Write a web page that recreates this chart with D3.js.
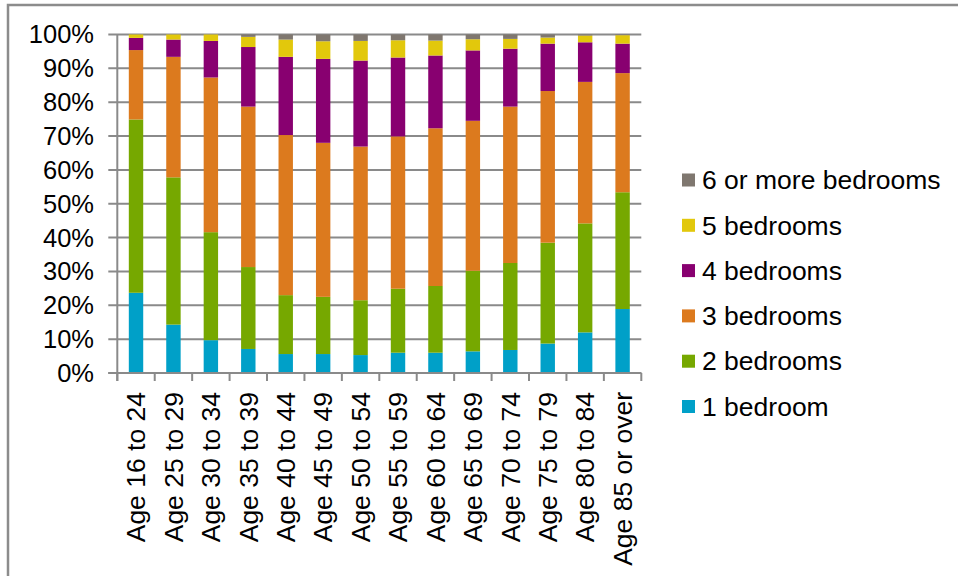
<!DOCTYPE html>
<html>
<head>
<meta charset="utf-8">
<script src="https://cdn.jsdelivr.net/npm/d3@7"></script>
<style>
  html, body { margin: 0; padding: 0; background: #fff; }
  svg { display: block; }
  text { font-family: "Liberation Sans", Arial, sans-serif; fill: #000; }
</style>
</head>
<body>
<svg id="chart" width="958" height="576"></svg>
<script>
// Household reference person age groups
const ageGroups = ["Age 16 to 24", "Age 25 to 29", "Age 30 to 34", "Age 35 to 39", "Age 40 to 44",
  "Age 45 to 49", "Age 50 to 54", "Age 55 to 59", "Age 60 to 64", "Age 65 to 69",
  "Age 70 to 74", "Age 75 to 79", "Age 80 to 84", "Age 85 or over"];

// Share of households (%) by number of bedrooms
const oneBed   = [23.7, 14.3, 9.7, 7.1, 5.6, 5.6, 5.3, 6.0, 6.0, 6.4, 6.8, 8.7, 12.0, 18.9];
const twoBed   = [51.2, 43.5, 31.9, 24.2, 17.4, 16.9, 16.2, 18.9, 19.7, 23.8, 25.7, 29.8, 32.2, 34.5];
const threeBed = [20.5, 35.6, 45.7, 47.4, 47.3, 45.5, 45.4, 45.0, 46.6, 44.3, 46.2, 44.8, 41.8, 35.2];
const fourBed  = [3.6, 5.1, 10.8, 17.6, 23.1, 24.8, 25.4, 23.3, 21.5, 20.8, 17.1, 14.0, 11.7, 8.7];
const fiveBed  = [1.0, 1.5, 1.9, 3.0, 5.1, 5.2, 5.8, 5.1, 4.4, 3.3, 2.9, 1.8, 2.0, 2.5];
const sixBed   = [0.0, 0.0, 0.0, 0.7, 1.5, 2.0, 1.9, 1.7, 1.8, 1.4, 1.3, 0.9, 0.3, 0.2];

const seriesNames = ["1 bedroom", "2 bedrooms", "3 bedrooms", "4 bedrooms", "5 bedrooms", "6 or more bedrooms"];
const seriesValues = [oneBed, twoBed, threeBed, fourBed, fiveBed, sixBed];
const seriesColors = ["#00a0c8", "#76a800", "#dc7a1e", "#880070", "#e2c80c", "#7f776f"];
const yTicks = [0, 10, 20, 30, 40, 50, 60, 70, 80, 90, 100];

const rows = ageGroups.map((g, i) => {
  const r = { group: g };
  seriesNames.forEach((s, j) => { r[s] = seriesValues[j][i]; });
  return r;
});

const svg = d3.select("#chart");
const gridColor = "#8a8a8a";

// outer frame
svg.append("path")
  .attr("d", "M8,576 V5 H958")
  .attr("fill", "none")
  .attr("stroke", "#8c8c8c")
  .attr("stroke-width", 2.5);

const plotLeft = 117.3, plotRight = 641.3, plotTop = 34.5, plotBottom = 373;

const x = d3.scaleBand().domain(ageGroups).range([plotLeft, plotRight]).paddingInner(0.615).paddingOuter(0.3075);
const y = d3.scaleLinear().domain([0, 100]).range([plotBottom, plotTop]);

// horizontal gridlines with outward ticks on the left
svg.append("g").selectAll("line").data(yTicks).join("line")
  .attr("x1", plotLeft - 9).attr("x2", plotRight)
  .attr("y1", d => y(d)).attr("y2", d => y(d))
  .attr("stroke", gridColor).attr("stroke-width", 2);

// stacked bars
const stack = d3.stack().keys(seriesNames);
const layers = stack(rows);
svg.append("g").selectAll("g").data(layers).join("g")
  .attr("fill", (d, i) => seriesColors[i])
  .selectAll("rect").data(d => d).join("rect")
  .attr("x", d => x(d.data.group))
  .attr("width", x.bandwidth())
  .attr("y", d => y(d[1]))
  .attr("height", d => Math.max(0, y(d[0]) - y(d[1])));

// y axis line
svg.append("line")
  .attr("x1", plotLeft).attr("x2", plotLeft)
  .attr("y1", plotTop).attr("y2", plotBottom + 8)
  .attr("stroke", gridColor).attr("stroke-width", 2);

// x axis line and category separators
svg.append("line")
  .attr("x1", plotLeft - 9).attr("x2", plotRight)
  .attr("y1", plotBottom).attr("y2", plotBottom)
  .attr("stroke", gridColor).attr("stroke-width", 2);
const step = x.step();
svg.append("g").selectAll("line").data(d3.range(ageGroups.length + 1)).join("line")
  .attr("x1", i => plotLeft + i * step).attr("x2", i => plotLeft + i * step)
  .attr("y1", plotBottom).attr("y2", plotBottom + 8)
  .attr("stroke", gridColor).attr("stroke-width", 2);

// y tick labels
svg.append("g").selectAll("text").data(yTicks).join("text")
  .attr("x", 94).attr("y", d => y(d))
  .attr("dy", "0.35em")
  .attr("text-anchor", "end")
  .attr("font-size", 25.5)
  .text(d => d + "%");

// x category labels, rotated
svg.append("g").selectAll("text").data(ageGroups).join("text")
  .attr("transform", d => `translate(${x(d) + x.bandwidth() / 2},392) rotate(-90)`)
  .attr("dy", "0.35em")
  .attr("text-anchor", "end")
  .attr("font-size", 26.5)
  .text(d => d);

// legend, top entry is the last series
const legendOrder = seriesNames.map((s, i) => i).reverse();
const legend = svg.append("g").selectAll("g").data(legendOrder).join("g")
  .attr("transform", (d, k) => `translate(682,${180 + k * 45.3})`);
legend.append("rect")
  .attr("x", 0).attr("y", -6.5).attr("width", 13).attr("height", 13)
  .attr("fill", d => seriesColors[d]);
legend.append("text")
  .attr("x", 20).attr("y", 0).attr("dy", "0.35em")
  .attr("font-size", 26.5)
  .text(d => seriesNames[d]);
</script>
</body>
</html>
